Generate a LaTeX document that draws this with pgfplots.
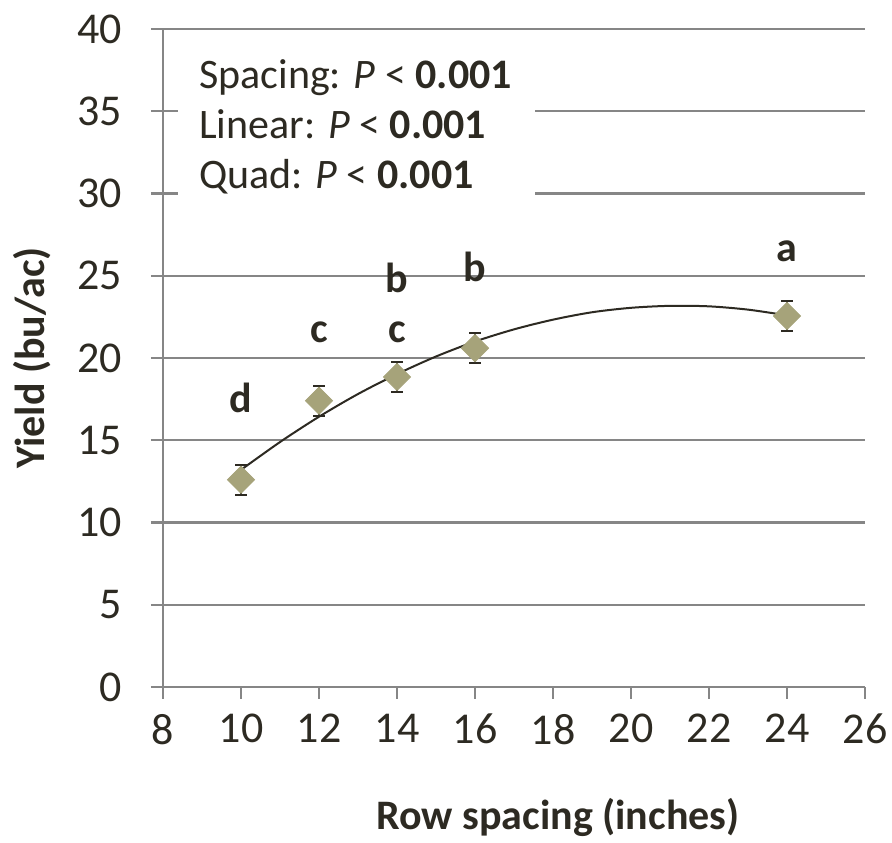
\documentclass[border=0pt]{standalone}
\usepackage{pgfplots}
\pgfplotsset{compat=1.18}
\usepackage{fontspec}
\setmainfont{Carlito}
\definecolor{txt}{RGB}{45,42,34}
\definecolor{gridc}{RGB}{134,134,134}
\definecolor{olive}{RGB}{166,163,122}
\begin{document}
\begin{tikzpicture}
\begin{axis}[name=ax, scale only axis, width=351pt, height=329pt,
  xmin=8, xmax=26, ymin=0, ymax=40,
  xtick={8,10,...,26}, ytick={0,5,...,40},
  axis x line=bottom, axis y line=left,
  axis line style={gridc, line width=1.2pt, -},
  ymajorgrids, major grid style={gridc, line width=1.2pt},
  tick align=outside, major tick length=6pt,
  tick style={gridc, line width=1.2pt},
  ticklabel style={font=\fontsize{22}{26}\selectfont, text=txt},
  xticklabel style={yshift=-4pt},
  yticklabel style={xshift=-11pt},
  /pgf/number format/assume math mode=true,
  xlabel={\textbf{Row spacing (inches)}},
  ylabel={\textbf{Yield (bu/ac)}},
  label style={font=\fontsize{21}{25}\selectfont, text=txt},
  xlabel style={xshift=22pt},
  xlabel shift=20pt, ylabel shift=6.5pt,
  clip=false,
]
% text box
\fill[white] (axis cs:8.38,29.55) rectangle (axis cs:17.55,39.2);
\node[anchor=base west, text=txt, font=\fontsize{21}{25}\selectfont, inner sep=0pt] at (axis cs:8.92,36.41) {Spacing: \textit{P} < \textbf{0.001}};
\node[anchor=base west, text=txt, font=\fontsize{21}{25}\selectfont, inner sep=0pt] at (axis cs:8.92,33.37) {Linear: \textit{P} < \textbf{0.001}};
\node[anchor=base west, text=txt, font=\fontsize{21}{25}\selectfont, inner sep=0pt] at (axis cs:8.92,30.33) {Quad: \textit{P} < \textbf{0.001}};

\addplot[only marks, mark=square*, mark size=4.8pt,
  mark options={rotate=45, fill=olive, draw=olive},
  error bars/.cd, y dir=both, y explicit,
  error bar style={txt, line width=1pt},
  error mark options={rotate=90, mark size=2.8pt, txt, line width=1pt}]
  coordinates {
  (10,12.6) +- (0,0.9)
  (12,17.4) +- (0,0.9)
  (14,18.85) +- (0,0.9)
  (16,20.6) +- (0,0.9)
  (24,22.55) +- (0,0.9)
  };

\addplot[smooth, txt, line width=1pt, mark=none] coordinates {
  (10,13.20) (11,14.89) (12,16.43) (13,17.81) (14,19.02) (15,20.09)
  (16,21.00) (17,21.74) (18,22.33) (19,22.78) (20,23.05) (21,23.17)
  (22,23.14) (23,22.94) (24,22.59)
};

\node[anchor=base, text=txt, font=\fontsize{21}{25}\selectfont\bfseries] at (axis cs:10,16.66) {d};
\node[anchor=base, text=txt, font=\fontsize{21}{25}\selectfont\bfseries] at (axis cs:12,20.97) {c};
\node[anchor=base, text=txt, font=\fontsize{21}{25}\selectfont\bfseries] at (axis cs:14,20.97) {c};
\node[anchor=base, text=txt, font=\fontsize{21}{25}\selectfont\bfseries] at (axis cs:14,24.01) {b};
\node[anchor=base, text=txt, font=\fontsize{21}{25}\selectfont\bfseries] at (axis cs:16,24.62) {b};
\node[anchor=base, text=txt, font=\fontsize{21}{25}\selectfont\bfseries] at (axis cs:24,25.84) {a};
\end{axis}
\pgfresetboundingbox
\useasboundingbox ([xshift=-81.5pt,yshift=-78pt]ax.south west) rectangle ([xshift=13.5pt,yshift=14.5pt]ax.north east);
\end{tikzpicture}
\end{document}
